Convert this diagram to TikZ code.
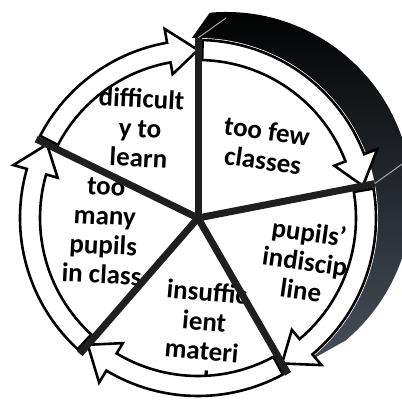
\documentclass[tikz,border=0pt]{standalone}
\usepackage{fontspec}
\setmainfont{Carlito}
\usetikzlibrary{calc}
\definecolor{sidegray}{RGB}{72,80,90}

\begin{document}
\begin{tikzpicture}[x=1pt, y=1pt,
    every node/.style={font=\fontsize{27}{29.5}\selectfont\bfseries, align=center, inner sep=0pt},
    band/.style={draw=black, line width=2.6pt, fill=white, line join=miter},
    divider/.style={draw=black!88, line width=7pt},
    seam/.style={draw=gray!70, line width=1pt},
  ]
  \useasboundingbox (0,0) rectangle (401,409);
  \coordinate (ctr) at (198,191);
  \coordinate (back) at (226,211);

  % --- dark side of the disc ---
  \shade[top color=black, middle color=black, bottom color=sidegray]
    ($(ctr)+(92:180pt)$) -- ($(back)+(95:186pt)$)
    arc[start angle=95, end angle=-50, radius=186pt]
    -- ($(ctr)+(-55:180pt)$) -- cycle;
  \draw[seam] ($(ctr)+(90:180pt)$) -- ++(28,20);
  \draw[seam] ($(ctr)+(11:180pt)$) -- ++(28,20);

  % --- front face ---
  \fill[white] (ctr) circle[radius=180pt];

  % --- labels ---
  \node[rotate=-3] (learn) at (140,281) {difficult\\y to\\learn};
  \node[rotate=-8] (classes) at (265,263) {too few\\classes};
  \node[rotate=-3] (pupils) at (104,178) {too\\many\\pupils\\in class};
  \node[rotate=-8] (discip) at (305,148) {pupils'\\indiscip\\line};
  \node[rotate=-5] (material) at (203,73) {insuffic\\ient\\materi\\al};

  % --- cycle arrows ---
  \foreach \a/\b in {90/11, 11/-60, -60/-131, -131/-206, -206/-270} {
    \draw[band] ($(ctr)+(\a-1.5:158pt)$) arc[start angle=\a-1.5, end angle=\b+10, radius=158pt]
      -- ($(ctr)+(\b+10:146pt)$) -- ($(ctr)+(\b:168pt)$) -- ($(ctr)+(\b+10:192pt)$)
      -- ($(ctr)+(\b+10:178pt)$) arc[start angle=\b+10, end angle=\a-1.5, radius=178pt] -- cycle;
  }

  % --- dividers ---
  \foreach \t in {90,11,-60,-131,154}
    \draw[divider] (ctr) -- ($(ctr)+(\t:180pt)$);
\end{tikzpicture}
\end{document}
